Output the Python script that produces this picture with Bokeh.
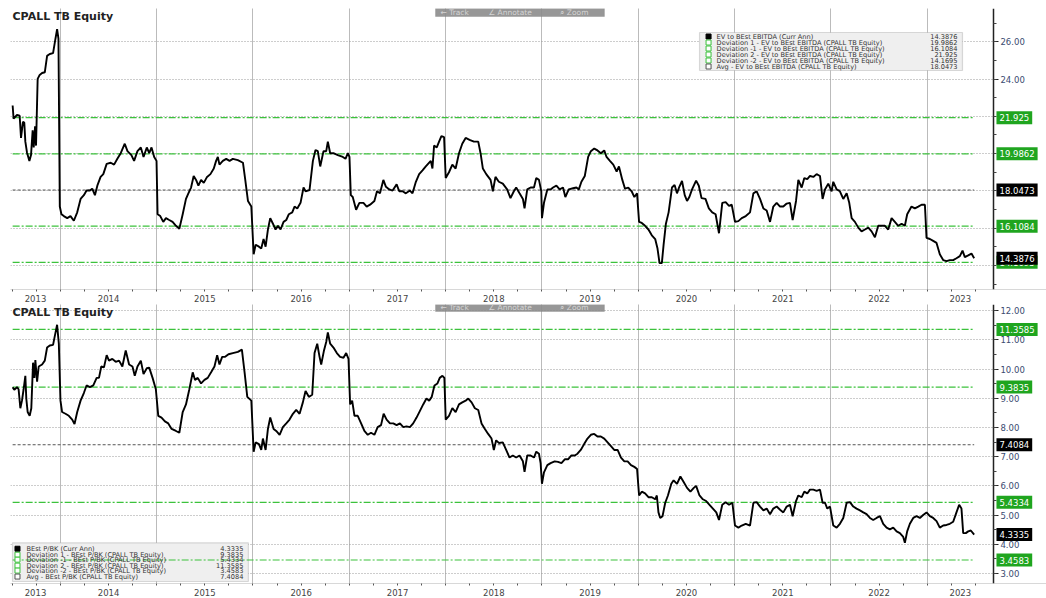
from datetime import datetime, timedelta
from bokeh.plotting import figure
from bokeh.layouts import column
from bokeh.models import (ColumnDataSource, FixedTicker, DatetimeTickFormatter,
                          NumeralTickFormatter, Label, Range1d, BoxAnnotation)
from bokeh.core.properties import value
from bokeh.embed import file_html
from bokeh.resources import INLINE

# ---------------- data ----------------
ev_years = [2013.503, 2013.513, 2013.548, 2013.576, 2013.590, 2013.610, 2013.624, 2013.635, 2013.652, 2013.677,
            2013.694, 2013.711, 2013.722, 2013.736, 2013.746, 2013.763, 2013.784, 2013.809, 2013.837, 2013.861,
            2013.889, 2013.923, 2013.948, 2013.965, 2013.979, 2013.993, 2014.010, 2014.035, 2014.070, 2014.104,
            2014.139, 2014.174, 2014.209, 2014.243, 2014.271, 2014.306, 2014.330, 2014.358, 2014.383, 2014.417,
            2014.445, 2014.480, 2014.522, 2014.557, 2014.591, 2014.626, 2014.668, 2014.696, 2014.737, 2014.765,
            2014.800, 2014.835, 2014.863, 2014.897, 2014.922, 2014.946, 2014.974, 2014.998, 2015.009, 2015.037,
            2015.068, 2015.096, 2015.130, 2015.165, 2015.200, 2015.235, 2015.270, 2015.304, 2015.329, 2015.357,
            2015.384, 2015.409, 2015.433, 2015.461, 2015.489, 2015.523, 2015.558, 2015.593, 2015.617, 2015.635,
            2015.652, 2015.687, 2015.722, 2015.757, 2015.791, 2015.843, 2015.896, 2015.920, 2015.948, 2015.983,
            2016.007, 2016.028, 2016.062, 2016.086, 2016.110, 2016.131, 2016.155, 2016.179, 2016.207, 2016.234,
            2016.259, 2016.286, 2016.317, 2016.345, 2016.372, 2016.407, 2016.431, 2016.459, 2016.493, 2016.524,
            2016.545, 2016.586, 2016.621, 2016.648, 2016.672, 2016.697, 2016.731, 2016.759, 2016.776, 2016.800,
            2016.834, 2016.879, 2016.931, 2016.959, 2016.983, 2017.000, 2017.014, 2017.034, 2017.069, 2017.103,
            2017.145, 2017.179, 2017.214, 2017.259, 2017.286, 2017.317, 2017.352, 2017.379, 2017.414, 2017.448,
            2017.490, 2017.517, 2017.552, 2017.586, 2017.628, 2017.655, 2017.690, 2017.724, 2017.759, 2017.793,
            2017.845, 2017.862, 2017.879, 2017.907, 2017.931, 2017.955, 2017.983, 2018.000, 2018.034, 2018.069,
            2018.103, 2018.138, 2018.172, 2018.207, 2018.248, 2018.293, 2018.338, 2018.362, 2018.386, 2018.421,
            2018.466, 2018.490, 2018.517, 2018.552, 2018.593, 2018.638, 2018.673, 2018.708, 2018.732, 2018.767,
            2018.802, 2018.819, 2018.847, 2018.882, 2018.917, 2018.941, 2018.969, 2018.993, 2019.000, 2019.021,
            2019.056, 2019.090, 2019.115, 2019.150, 2019.184, 2019.219, 2019.243, 2019.278, 2019.323, 2019.358,
            2019.383, 2019.410, 2019.445, 2019.480, 2019.508, 2019.543, 2019.577, 2019.612, 2019.647, 2019.671,
            2019.706, 2019.741, 2019.776, 2019.800, 2019.835, 2019.863, 2019.897, 2019.932, 2019.960, 2019.988,
            2020.009, 2020.037, 2020.071, 2020.106, 2020.141, 2020.176, 2020.200, 2020.221, 2020.245, 2020.263,
            2020.287, 2020.315, 2020.350, 2020.377, 2020.402, 2020.426, 2020.454, 2020.482, 2020.506, 2020.530,
            2020.558, 2020.600, 2020.628, 2020.656, 2020.697, 2020.732, 2020.767, 2020.802, 2020.837, 2020.871,
            2020.906, 2020.941, 2020.969, 2021.003, 2021.038, 2021.073, 2021.115, 2021.159, 2021.194, 2021.228,
            2021.263, 2021.298, 2021.332, 2021.367, 2021.401, 2021.436, 2021.471, 2021.505, 2021.540, 2021.574,
            2021.602, 2021.637, 2021.661, 2021.696, 2021.723, 2021.754, 2021.782, 2021.817, 2021.851, 2021.886,
            2021.913, 2021.938, 2021.972, 2022.007, 2022.024, 2022.059, 2022.093, 2022.128, 2022.163, 2022.190,
            2022.215, 2022.249, 2022.284, 2022.318, 2022.353, 2022.388, 2022.422, 2022.457, 2022.491, 2022.526,
            2022.561, 2022.595, 2022.630, 2022.664, 2022.699, 2022.734, 2022.768, 2022.792, 2022.837, 2022.872,
            2022.907, 2022.941, 2022.976, 2022.993, 2023.028, 2023.062, 2023.097, 2023.131, 2023.166, 2023.201,
            2023.235, 2023.270, 2023.304, 2023.339, 2023.367, 2023.391, 2023.426, 2023.460, 2023.488]
ev_values = [22.58, 21.87, 22.07, 22.03, 20.84, 21.70, 21.66, 20.64, 20.06, 19.61,
             19.92, 21.25, 20.33, 21.46, 20.43, 24.01, 24.22, 24.32, 24.36, 25.24,
             25.34, 25.39, 26.16, 26.67, 26.16, 17.16, 16.75, 16.65, 16.54, 16.65,
             16.40, 16.85, 17.57, 17.77, 18.02, 18.02, 18.12, 17.77, 18.28, 18.75,
             18.90, 19.45, 19.51, 19.41, 19.72, 20.02, 20.53, 20.13, 19.92, 19.61,
             20.13, 20.33, 19.82, 20.33, 20.02, 20.33, 19.82, 19.61, 16.75, 16.65,
             16.34, 16.54, 16.44, 16.34, 16.13, 15.97, 16.75, 17.57, 17.87, 18.18,
             18.80, 18.59, 18.28, 18.59, 18.43, 18.75, 18.90, 19.20, 19.61, 19.82,
             19.41, 19.61, 19.72, 19.61, 19.72, 19.65, 19.51, 18.59, 17.46, 17.16,
             14.60, 15.11, 15.01, 14.91, 15.42, 15.01, 15.93, 16.54, 16.24, 15.93,
             16.13, 15.93, 16.34, 16.44, 16.75, 16.85, 17.16, 17.06, 17.36, 18.18,
             17.98, 18.04, 19.61, 20.19, 20.13, 19.31, 20.13, 20.13, 20.64, 20.02,
             20.02, 19.92, 19.82, 19.72, 20.02, 19.82, 17.77, 17.67, 16.99, 17.36,
             17.36, 17.16, 17.26, 17.46, 17.98, 17.87, 18.59, 18.22, 18.08, 18.02,
             18.35, 17.98, 17.98, 17.87, 18.02, 17.87, 18.49, 18.90, 19.10, 19.31,
             19.61, 19.20, 20.43, 20.33, 20.64, 20.94, 20.88, 18.69, 19.00, 19.41,
             19.20, 20.02, 20.53, 20.84, 20.74, 20.64, 20.64, 20.02, 19.20, 18.90,
             18.59, 17.98, 18.75, 18.49, 18.39, 18.08, 17.61, 17.98, 18.18, 17.87,
             17.57, 17.06, 18.08, 18.18, 18.18, 18.69, 18.59, 17.98, 16.54, 17.36,
             18.08, 18.08, 18.18, 18.28, 18.08, 18.18, 17.67, 18.08, 18.14, 18.18,
             18.08, 18.49, 18.80, 19.82, 20.13, 20.27, 20.17, 20.02, 20.17, 19.82,
             19.61, 19.41, 19.04, 19.31, 18.59, 18.12, 18.18, 17.98, 17.67, 17.87,
             16.34, 16.28, 16.13, 15.93, 15.62, 15.42, 14.91, 14.13, 14.13, 15.11,
             16.24, 16.85, 18.18, 18.32, 17.87, 18.22, 18.53, 17.77, 17.46, 17.67,
             18.08, 18.55, 18.28, 17.61, 17.57, 17.06, 16.85, 16.75, 15.73, 17.36,
             17.40, 17.20, 17.26, 16.34, 16.38, 16.54, 16.65, 16.85, 17.87, 17.98,
             17.57, 17.06, 16.95, 16.34, 17.16, 17.36, 17.16, 17.16, 17.32, 17.36,
             16.44, 17.46, 18.59, 18.18, 18.69, 18.63, 18.80, 18.75, 18.90, 18.80,
             17.57, 18.08, 18.39, 17.98, 18.49, 18.08, 17.98, 17.57, 17.87, 17.36,
             16.54, 16.34, 16.03, 15.83, 15.93, 16.03, 15.83, 15.52, 16.13, 16.13,
             16.13, 15.93, 16.54, 16.34, 16.13, 16.24, 16.13, 16.75, 17.16, 17.06,
             17.16, 17.26, 17.26, 15.48, 15.42, 15.32, 15.21, 14.60, 14.29, 14.23,
             14.29, 14.29, 14.39, 14.50, 14.80, 14.45, 14.54, 14.64, 14.39]

pb_years = [2013.503, 2013.520, 2013.548, 2013.565, 2013.583, 2013.600, 2013.617, 2013.635, 2013.645, 2013.659,
            2013.680, 2013.697, 2013.715, 2013.729, 2013.739, 2013.757, 2013.774, 2013.809, 2013.837, 2013.861,
            2013.889, 2013.923, 2013.941, 2013.965, 2013.983, 2014.000, 2014.017, 2014.052, 2014.087, 2014.122,
            2014.146, 2014.174, 2014.209, 2014.243, 2014.271, 2014.306, 2014.341, 2014.376, 2014.400, 2014.424,
            2014.452, 2014.480, 2014.504, 2014.539, 2014.574, 2014.609, 2014.643, 2014.678, 2014.713, 2014.748,
            2014.772, 2014.800, 2014.835, 2014.863, 2014.897, 2014.922, 2014.957, 2014.991, 2015.016, 2015.050,
            2015.085, 2015.120, 2015.155, 2015.200, 2015.235, 2015.270, 2015.304, 2015.339, 2015.374, 2015.398,
            2015.426, 2015.461, 2015.496, 2015.530, 2015.565, 2015.600, 2015.628, 2015.652, 2015.680, 2015.711,
            2015.746, 2015.791, 2015.843, 2015.885, 2015.913, 2015.941, 2015.983, 2016.007, 2016.028, 2016.062,
            2016.086, 2016.103, 2016.131, 2016.155, 2016.179, 2016.214, 2016.241, 2016.276, 2016.310, 2016.345,
            2016.379, 2016.414, 2016.448, 2016.483, 2016.517, 2016.545, 2016.579, 2016.614, 2016.638, 2016.666,
            2016.690, 2016.707, 2016.734, 2016.759, 2016.776, 2016.800, 2016.834, 2016.869, 2016.903, 2016.938,
            2016.966, 2016.990, 2017.007, 2017.028, 2017.052, 2017.086, 2017.121, 2017.155, 2017.190, 2017.224,
            2017.259, 2017.293, 2017.328, 2017.355, 2017.386, 2017.421, 2017.455, 2017.490, 2017.524, 2017.559,
            2017.593, 2017.628, 2017.662, 2017.697, 2017.731, 2017.766, 2017.800, 2017.828, 2017.855, 2017.883,
            2017.914, 2017.938, 2017.966, 2017.986, 2018.000, 2018.034, 2018.069, 2018.103, 2018.138, 2018.172,
            2018.207, 2018.234, 2018.269, 2018.303, 2018.338, 2018.372, 2018.407, 2018.441, 2018.476, 2018.500,
            2018.524, 2018.552, 2018.593, 2018.628, 2018.663, 2018.697, 2018.732, 2018.767, 2018.802, 2018.819,
            2018.847, 2018.882, 2018.917, 2018.941, 2018.969, 2018.986, 2019.000, 2019.021, 2019.056, 2019.090,
            2019.132, 2019.167, 2019.202, 2019.237, 2019.271, 2019.306, 2019.341, 2019.369, 2019.403, 2019.438,
            2019.473, 2019.508, 2019.543, 2019.577, 2019.612, 2019.647, 2019.682, 2019.717, 2019.751, 2019.786,
            2019.821, 2019.856, 2019.890, 2019.925, 2019.960, 2019.988, 2020.009, 2020.037, 2020.071, 2020.106,
            2020.141, 2020.176, 2020.193, 2020.210, 2020.228, 2020.252, 2020.280, 2020.308, 2020.343, 2020.367,
            2020.402, 2020.437, 2020.471, 2020.506, 2020.541, 2020.576, 2020.600, 2020.635, 2020.670, 2020.704,
            2020.739, 2020.774, 2020.809, 2020.837, 2020.871, 2020.906, 2020.941, 2020.976, 2021.003, 2021.038,
            2021.073, 2021.115, 2021.159, 2021.194, 2021.228, 2021.263, 2021.298, 2021.332, 2021.367, 2021.401,
            2021.436, 2021.471, 2021.505, 2021.540, 2021.574, 2021.602, 2021.637, 2021.661, 2021.696, 2021.723,
            2021.754, 2021.782, 2021.817, 2021.851, 2021.886, 2021.913, 2021.938, 2021.962, 2021.990, 2022.024,
            2022.059, 2022.093, 2022.128, 2022.163, 2022.197, 2022.232, 2022.266, 2022.301, 2022.336, 2022.370,
            2022.405, 2022.439, 2022.474, 2022.509, 2022.543, 2022.578, 2022.612, 2022.647, 2022.682, 2022.716,
            2022.751, 2022.768, 2022.792, 2022.820, 2022.855, 2022.889, 2022.924, 2022.958, 2022.993, 2023.028,
            2023.062, 2023.097, 2023.131, 2023.166, 2023.201, 2023.235, 2023.270, 2023.304, 2023.332, 2023.356,
            2023.374, 2023.401, 2023.426, 2023.453, 2023.488]
pb_values = [9.38, 9.29, 9.38, 9.31, 8.66, 8.92, 9.31, 9.77, 8.99, 8.53,
             8.40, 8.66, 10.22, 9.70, 10.31, 9.57, 10.09, 10.16, 10.29, 10.74,
             10.81, 10.83, 11.13, 11.52, 10.87, 8.92, 8.53, 8.47, 8.40, 8.27,
             8.12, 8.53, 8.92, 9.18, 9.44, 9.38, 9.44, 9.70, 9.70, 10.09,
             10.06, 10.48, 10.29, 10.35, 10.25, 10.29, 10.09, 10.64, 10.16, 10.09,
             9.77, 10.09, 10.29, 9.83, 10.03, 10.05, 9.70, 9.31, 8.40, 8.34,
             8.21, 8.14, 7.95, 7.88, 7.82, 8.53, 8.79, 9.31, 9.89, 9.63,
             9.70, 9.51, 9.63, 9.70, 9.89, 10.09, 10.48, 10.16, 10.42, 10.42,
             10.51, 10.55, 10.59, 10.67, 9.89, 9.05, 8.92, 7.17, 7.49, 7.43,
             7.23, 7.62, 7.23, 7.95, 8.34, 7.95, 7.88, 7.75, 8.01, 8.14,
             8.27, 8.47, 8.60, 8.47, 8.86, 9.25, 9.05, 9.12, 10.55, 10.87,
             10.42, 10.16, 10.61, 10.93, 11.26, 10.87, 10.74, 10.55, 10.42, 10.39,
             10.55, 10.35, 8.79, 8.92, 8.40, 8.40, 8.14, 7.88, 7.75, 7.82,
             7.75, 8.01, 8.08, 8.47, 8.27, 8.14, 8.14, 8.08, 8.14, 8.01,
             8.04, 8.01, 8.14, 8.34, 8.56, 8.79, 8.99, 8.92, 9.05, 9.44,
             9.51, 9.70, 9.77, 9.70, 8.27, 8.40, 8.66, 8.53, 8.79, 8.86,
             8.92, 8.99, 8.86, 8.66, 8.60, 8.14, 7.95, 7.78, 7.62, 7.23,
             7.56, 7.47, 7.49, 7.23, 6.97, 7.04, 6.97, 7.04, 6.84, 6.48,
             7.04, 7.04, 6.97, 7.17, 7.10, 6.78, 6.07, 6.46, 6.71, 6.78,
             6.84, 6.82, 6.78, 6.91, 6.91, 7.04, 7.04, 7.10, 7.23, 7.43,
             7.62, 7.75, 7.78, 7.69, 7.69, 7.62, 7.49, 7.36, 7.23, 7.23,
             6.97, 6.84, 6.84, 6.71, 6.65, 6.58, 5.67, 5.80, 5.74, 5.61,
             5.61, 5.54, 5.67, 5.09, 4.90, 4.96, 5.42, 5.67, 6.07, 6.19,
             6.07, 6.32, 6.13, 5.93, 5.80, 5.93, 6.00, 5.67, 5.54, 5.48,
             5.35, 5.22, 5.09, 4.83, 5.35, 5.44, 5.35, 5.42, 4.64, 4.57,
             4.64, 4.70, 4.64, 5.42, 5.44, 5.29, 5.16, 5.22, 5.03, 5.22,
             5.29, 5.18, 5.09, 5.29, 5.35, 4.96, 5.48, 5.67, 5.61, 5.80,
             5.74, 5.87, 5.87, 5.83, 5.87, 5.42, 5.42, 5.22, 5.29, 4.64,
             4.57, 4.70, 4.90, 5.42, 5.44, 5.29, 5.22, 5.16, 5.09, 5.03,
             4.90, 4.83, 4.90, 4.96, 4.70, 4.57, 4.51, 4.57, 4.44, 4.38,
             4.25, 4.05, 4.44, 4.70, 4.90, 4.96, 4.90, 5.00, 5.09, 4.96,
             4.90, 4.79, 4.57, 4.64, 4.66, 4.70, 4.77, 5.09, 5.35, 5.22,
             4.38, 4.38, 4.44, 4.47, 4.33]

ev_last = 14.3876
pb_last = 4.3335
# order: Dev 1, Dev -1, Dev 2, Dev -2, Avg
ev_levels = [19.9862, 16.1084, 21.925, 14.1695, 18.0473]
pb_levels = [9.3835, 5.4334, 11.3585, 3.4583, 7.4084]
level_kinds = ["dev", "dev", "dev", "dev", "avg"]
ev_names = ["EV to BEst EBITDA (Curr Ann)",
            "Deviation 1 - EV to BEst EBITDA (CPALL TB Equity)",
            "Deviation -1 - EV to BEst EBITDA (CPALL TB Equity)",
            "Deviation 2 - EV to BEst EBITDA (CPALL TB Equity)",
            "Deviation -2 - EV to BEst EBITDA (CPALL TB Equity)",
            "Avg - EV to BEst EBITDA (CPALL TB Equity)"]
pb_names = ["BEst P/BK (Curr Ann)",
            "Deviation 1 - BEst P/BK (CPALL TB Equity)",
            "Deviation -1 - BEst P/BK (CPALL TB Equity)",
            "Deviation 2 - BEst P/BK (CPALL TB Equity)",
            "Deviation -2 - BEst P/BK (CPALL TB Equity)",
            "Avg - BEst P/BK (CPALL TB Equity)"]
year_labels = list(range(2013, 2024))
ev_yticks = [24, 26]
ev_ygrid = [14, 16, 18, 20, 22, 24, 26]
pb_yticks = [3, 4, 5, 6, 7, 8, 9, 10, 11, 12]
title_text = "CPALL TB Equity"
toolbar_items = ["\u2190 Track", "\u2220 Annotate", "\u2315 Zoom"]

# ---------------- helpers ----------------
EPOCH = datetime(1970, 1, 1)


def ms(y):
    yi = int(y)
    start = datetime(yi, 1, 1)
    days = (datetime(yi + 1, 1, 1) - start).days
    return (start + timedelta(days=(y - yi) * days) - EPOCH).total_seconds() * 1000.0


def ref_x(px):
    # page pixel -> date (layout helper)
    return ms(2014 + (px - 60) / 96.3)


GREEN_LINE = "#3cc23c"
GREEN_TAG = "#1fa51f"
FONT = "DejaVu Sans"

X0 = ref_x(10)       # left edge of the frame
XA = ref_x(993)      # position of the value axis
XR = ref_x(1046)     # right edge of the canvas
x_range = Range1d(X0, XR)


def make_fig(height, yr, top_border):
    p = figure(width=1046, height=height, x_axis_type="datetime", y_axis_location="right",
               x_range=x_range, y_range=Range1d(*yr), output_backend="svg", toolbar_location=None,
               min_border_left=10, min_border_right=0, min_border_top=top_border, min_border_bottom=0,
               background_fill_color="white", border_fill_color="white")
    p.outline_line_color = None
    label_ticks = []
    for y in year_labels:
        a = max(ms(y), X0)
        b = min(ms(y + 1), XA)
        label_ticks.append((a + b) / 2)
    quarter_ticks = [ms(y + q / 4) for y in range(2013, 2024) for q in range(4) if X0 <= ms(y + q / 4) <= XA]
    p.xaxis.ticker = FixedTicker(ticks=label_ticks, minor_ticks=quarter_ticks)
    p.xaxis.formatter = DatetimeTickFormatter(years="%Y", months="%Y", days="%Y", hours="%Y",
                                              hourmin="%Y", minutes="%Y", minsec="%Y",
                                              seconds="%Y", milliseconds="%Y", microseconds="%Y")
    p.xaxis.major_tick_out = 0
    p.xaxis.major_tick_in = 0
    p.xaxis.minor_tick_out = 2
    p.xaxis.minor_tick_in = 0
    p.xaxis.minor_tick_line_color = "#555555"
    p.xaxis.axis_line_color = "#d8d8d8"
    p.xaxis.major_label_text_font = FONT
    p.xaxis.major_label_text_font_size = "8.5px"
    p.xaxis.major_label_text_color = "#444444"
    p.xaxis.major_label_standoff = 3
    p.xgrid.ticker = FixedTicker(ticks=[ms(y) for y in range(2014, 2024)])
    p.xgrid.grid_line_color = "#777777"
    p.xgrid.grid_line_dash = "1 1"
    p.xgrid.grid_line_width = 1
    p.yaxis.fixed_location = XA
    p.yaxis.formatter = NumeralTickFormatter(format="0.00")
    p.yaxis.axis_line_color = "#222222"
    p.yaxis.axis_line_width = 1.5
    p.yaxis.major_tick_out = 5
    p.yaxis.major_tick_in = 0
    p.yaxis.minor_tick_out = 3
    p.yaxis.minor_tick_in = 0
    p.yaxis.major_tick_line_color = "#222222"
    p.yaxis.minor_tick_line_color = "#444444"
    p.yaxis.major_label_text_font = FONT
    p.yaxis.major_label_text_font_size = "8.5px"
    p.yaxis.major_label_text_color = "#3a4a70"
    p.yaxis.major_label_standoff = 2
    p.ygrid.grid_line_color = "#9a9a9a"
    p.ygrid.grid_line_dash = "1 2"
    # keep the label column (right of the axis) free of grid lines
    p.add_layout(BoxAnnotation(left=XA, right=XR, fill_color="white", fill_alpha=1.0,
                               line_color=None, level="underlay"))
    return p


def decorate(p, years, vals, levels, last, names, legend_box, legend_rows, legend_xs):
    t = [ms(y) for y in years]
    t0, t1 = t[0], t[-1]
    for lvl, kind in zip(levels, level_kinds):
        if kind == "dev":
            p.line([t0, t1], [lvl, lvl], line_color=GREEN_LINE, line_width=1.2, line_dash="7 2 2 2")
        else:
            p.line([t0, t1], [lvl, lvl], line_color="#555555", line_width=1, line_dash="3 2")
    p.line(t, vals, line_color="black", line_width=1.9)

    tags = [(lvl, GREEN_TAG) for lvl, k in zip(levels, level_kinds) if k == "dev"]
    tags += [(lvl, "black") for lvl, k in zip(levels, level_kinds) if k == "avg"]
    tags += [(last, "black")]
    for lvl, col in tags:
        p.add_layout(Label(x=XA, y=lvl, x_offset=3, text=f"{lvl:g}", text_align="left",
                           text_baseline="middle", text_color="white", text_font=FONT,
                           text_font_size="8.5px", background_fill_color=col, padding=3))

    (bx0, bx1, by0, by1) = legend_box
    p.add_layout(BoxAnnotation(left=bx0, right=bx1, bottom=by0, top=by1, fill_color="#efefef",
                               fill_alpha=1.0, line_color="#8a8a8a", line_width=1.2, level="underlay"))
    sw_x, txt_x, val_x = legend_xs
    vals_txt = [last] + levels
    src = ColumnDataSource(dict(x=[txt_x] * 6, y=legend_rows, text=names))
    p.text(x="x", y="y", text="text", source=src, text_font=value(FONT), text_font_size="6.6px",
           text_baseline="middle", text_color="#333333")
    src2 = ColumnDataSource(dict(x=[val_x] * 6, y=legend_rows, text=[f"{v:g}" for v in vals_txt]))
    p.text(x="x", y="y", text="text", source=src2, text_font=value(FONT), text_font_size="6.6px",
           text_baseline="middle", text_align="right", text_color="#333333")
    fills = ["black"] + ["white"] * 5
    lines = ["black"] + [GREEN_LINE] * 4 + ["#555555"]
    p.scatter([sw_x] * 6, legend_rows, marker="square", size=5, fill_color=fills, line_color=lines)


def add_toolbar(p, ymap, top_px, bot_px):
    p.add_layout(BoxAnnotation(left=ref_x(435), right=ref_x(604), bottom=ymap(bot_px), top=ymap(top_px),
                               fill_color="#8c8c8c", fill_alpha=0.9, line_color="#777777"))
    for txt, px in zip(toolbar_items, (440, 488, 560)):
        p.add_layout(Label(x=ref_x(px), y=ymap((top_px + bot_px) / 2), text=txt, text_baseline="middle",
                           text_font=FONT, text_font_size="7.5px", text_color="#d4d4d4"))


def top_y(py):
    return 26 - (py - 41.2) / 18.65


p1 = make_fig(304, (top_y(289), top_y(8)), 8)
p1.yaxis.ticker = FixedTicker(ticks=ev_yticks, minor_ticks=list(range(13, 28)))
p1.ygrid.ticker = FixedTicker(ticks=ev_ygrid)
decorate(p1, ev_years, ev_values, ev_levels, ev_last, ev_names,
         (ref_x(699), ref_x(962), top_y(70), top_y(32)),
         [top_y(y) for y in (36, 42, 48, 54, 60, 66)],
         (ref_x(708), ref_x(716), ref_x(957)))
p1.add_layout(Label(x=X0, y=top_y(8), x_offset=2, y_offset=-1, text=title_text, text_baseline="top",
                    text_font=FONT, text_font_style="bold", text_font_size="11px",
                    text_color="#222222"))
add_toolbar(p1, top_y, 8, 16)


def bot_y(py):
    return 12 - (py - 310.3) / 29.39


p2 = make_fig(294, (bot_y(585), bot_y(304)), 0)
p2.yaxis.ticker = FixedTicker(ticks=pb_yticks, minor_ticks=[v / 2 for v in range(5, 25)])
p2.ygrid.ticker = FixedTicker(ticks=pb_yticks)
decorate(p2, pb_years, pb_values, pb_levels, pb_last, pb_names,
         (ref_x(12), ref_x(248), bot_y(583), bot_y(544)),
         [bot_y(y) for y in (550, 556, 561, 567, 572, 578)],
         (ref_x(17), ref_x(26), ref_x(243)))
p2.add_layout(Label(x=X0, y=bot_y(304), x_offset=2, y_offset=-1, text=title_text, text_baseline="top",
                    text_font=FONT, text_font_style="bold", text_font_size="11px",
                    text_color="#222222"))
add_toolbar(p2, bot_y, 304, 311)

layout = column(p1, p2, spacing=0)
open("out.html", "w").write(file_html(layout, INLINE))
